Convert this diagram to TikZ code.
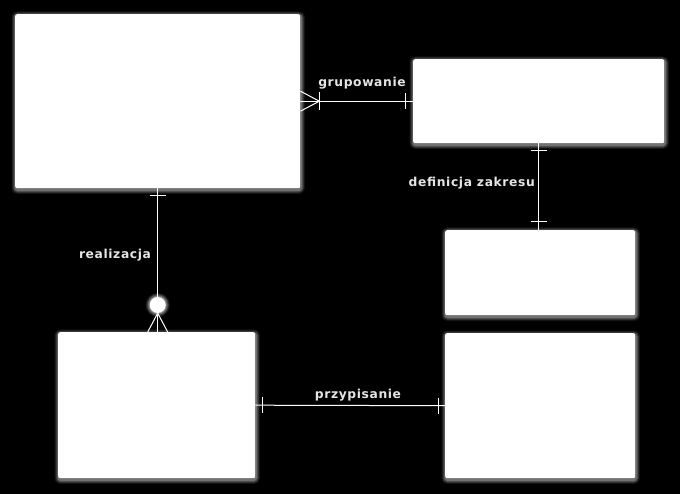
\documentclass[tikz,border=0pt]{standalone}
\usepackage{fontspec}
\setmainfont{DejaVu Sans}
\usetikzlibrary{calc}
\pgfdeclarelayer{back}
\pgfdeclarelayer{glowlayer}
\pgfsetlayers{back,glowlayer,main}
\newcommand{\boxglow}[1]{%
  \begin{pgfonlayer}{glowlayer}
  \foreach \r/\o in {4/0.08,3/0.12,2/0.15,1/0.2}{%
    \fill[white, opacity=\o, rounded corners=2pt+\r pt]
      ($(#1.north west)+(-\r+0.5,-\r+1.5)$) rectangle ($(#1.south east)+(\r+0.5,\r+1.5)$);}
  \end{pgfonlayer}}
\begin{document}
\begin{tikzpicture}[x=1pt,y=-1pt,
  box/.style={fill=white, rounded corners=2pt, inner sep=0pt, draw=none, anchor=north west},
  dot/.style={circle, fill=white, inner sep=0pt, minimum size=16pt},
  conn/.style={draw=white, line width=1pt},
  lbl/.style={text=white!90!black, inner sep=0pt,
    font=\fontsize{12.3}{14}\selectfont\bfseries\addfontfeatures{LetterSpace=5}}]
\begin{pgfonlayer}{back}
\fill[black] (0,0) rectangle (680,494);
\end{pgfonlayer}
\useasboundingbox (0,0) rectangle (680,494);
% boxes
\node[box, minimum width=285pt, minimum height=174pt] (b1) at (15,14) {};
\node[box, minimum width=251pt, minimum height=84pt] (b2) at (413,59) {};
\node[box, minimum width=190pt, minimum height=85pt] (b3) at (445,230) {};
\node[box, minimum width=197pt, minimum height=146pt] (b4) at (58,332) {};
\node[box, minimum width=190pt, minimum height=145pt] (b5) at (445,333) {};
\boxglow{b1}\boxglow{b2}\boxglow{b3}\boxglow{b4}\boxglow{b5}
% grupowanie
\draw[conn] (b1.east) -- (b2.west);
\draw[conn] ($(b1.east)+(0,-10)$) -- ($(b1.east)+(19,0)$) -- ($(b1.east)+(0,10)$);
\draw[conn] ($(b1.east)+(19,-9)$) -- ++(0,18);
\draw[conn] ($(b2.west)+(-8,-8)$) -- ++(0,16);
\node[lbl] (l1) at (362,83) {grupowanie};
% definicja zakresu
\coordinate (d2) at (b2.south |- b3.north);
\draw[conn] (b2.south) -- (d2);
\draw[conn] ($(b2.south)+(-8,7.5)$) -- ++(16,0);
\draw[conn] ($(d2)+(-8,-8)$) -- ++(16,0);
\node[lbl, anchor=east] (l2) at (535,183) {definicja zakresu};
% realizacja
\coordinate (r2) at (b1.south |- b4.north);
\draw[conn] (b1.south) -- (r2);
\draw[conn] ($(b1.south)+(-8,7)$) -- ++(16,0);
\node[dot] (c) at (b1.south |- 0,305) {};
\begin{pgfonlayer}{glowlayer}
\foreach \r/\o in {4/0.1,3/0.15,2/0.2,1/0.25}{\fill[white, opacity=\o] (c) circle (8+\r);}
\end{pgfonlayer}
\draw[conn] ($(r2)+(-10,0)$) -- (c.south) -- ($(r2)+(10,0)$);
\node[lbl] (l3) at (115,255) {realizacja};
% przypisanie
\draw[conn] (b4.east) -- (b5.west);
\draw[conn] ($(b4.east)+(7,-8)$) -- ++(0,16);
\draw[conn] ($(b5.west)+(-7,-8)$) -- ++(0,16);
\node[lbl] (l4) at (358,395) {przypisanie};
\end{tikzpicture}
\end{document}
